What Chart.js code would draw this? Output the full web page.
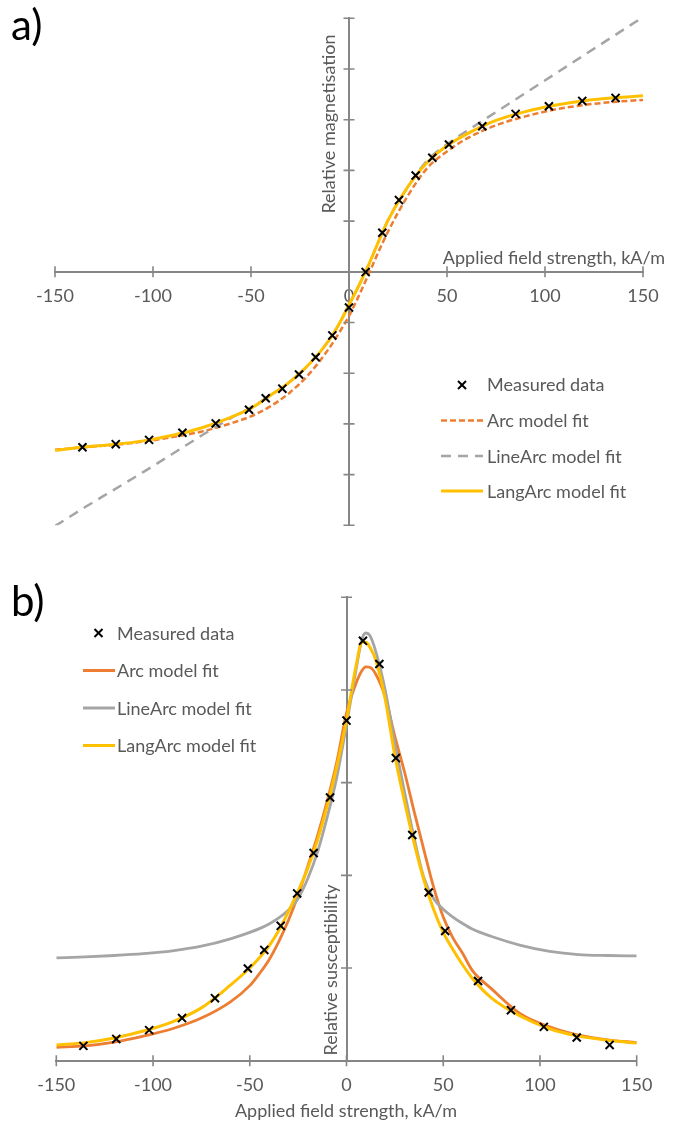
<!DOCTYPE html>
<html><head><meta charset="utf-8">
<script src="https://cdn.jsdelivr.net/npm/chart.js@4.4.1/dist/chart.umd.min.js"></script>
<style>
html,body{margin:0;padding:0;background:#fff;}
#wrap{position:relative;width:680px;height:1124px;overflow:hidden;font-family:Lato,"Open Sans",sans-serif;}
canvas{position:absolute;left:0;top:0;}
.t{position:absolute;color:#595959;font-size:18px;line-height:20px;white-space:nowrap;}
.lbl{position:absolute;color:#000;font-size:42px;line-height:44px;}
.rot{text-align:center;transform:rotate(-90deg);}
svg.sym{position:absolute;overflow:visible;}
</style></head><body>
<div id="wrap">
  <div style="position:absolute;left:0;top:0;width:680px;height:560px"><canvas id="ca" width="680" height="560"></canvas></div>
  <div style="position:absolute;left:0;top:560px;width:680px;height:564px"><canvas id="cb" width="680" height="564"></canvas></div>

  <div class="lbl" style="left:11px;top:2px">a)</div>
  <div class="lbl" style="left:11px;top:578px">b)</div>

  <div class="t" style="left:365px;width:300px;text-align:right;top:247px">Applied field strength, kA/m</div>
  <div class="t rot" style="left:228px;width:200px;top:114px">Relative magnetisation</div>

  <div class="t" style="left:196px;width:300px;text-align:center;top:1100px">Applied field strength, kA/m</div>
  <div class="t rot" style="left:230px;width:200px;top:960px">Relative susceptibility</div>

  <svg class="sym" style="left:0;top:0" width="1" height="1">
    <line x1="458" y1="381" x2="466" y2="389" stroke="#000" stroke-width="2"/>
    <line x1="458" y1="389" x2="466" y2="381" stroke="#000" stroke-width="2"/>
    <line x1="441" y1="420.5" x2="483" y2="420.5" stroke="#ED7D31" stroke-width="2.5" stroke-dasharray="6 3"/>
    <line x1="441" y1="456" x2="483" y2="456" stroke="#A5A5A5" stroke-width="2.5" stroke-dasharray="10 7"/>
    <line x1="441" y1="491" x2="483" y2="491" stroke="#FFC000" stroke-width="3"/>
    <line x1="94.5" y1="629" x2="102.5" y2="637" stroke="#000" stroke-width="2"/>
    <line x1="94.5" y1="637" x2="102.5" y2="629" stroke="#000" stroke-width="2"/>
    <line x1="83" y1="670.5" x2="115" y2="670.5" stroke="#ED7D31" stroke-width="3"/>
    <line x1="83" y1="708" x2="115" y2="708" stroke="#A5A5A5" stroke-width="3"/>
    <line x1="83" y1="745.5" x2="115" y2="745.5" stroke="#FFC000" stroke-width="3"/>
  </svg>
  <div class="t" style="left:487px;top:374px">Measured data</div>
  <div class="t" style="left:487px;top:410px">Arc model fit</div>
  <div class="t" style="left:487px;top:446px">LineArc model fit</div>
  <div class="t" style="left:487px;top:481px">LangArc model fit</div>

  <div class="t" style="left:117px;top:623px">Measured data</div>
  <div class="t" style="left:117px;top:660px">Arc model fit</div>
  <div class="t" style="left:117px;top:698px">LineArc model fit</div>
  <div class="t" style="left:117px;top:735px">LangArc model fit</div>
</div>
<script>
// ---------- data ----------
const xTicks = [-150, -100, -50, 0, 50, 100, 150];
const yTicksA = [-1, -0.8, -0.6, -0.4, -0.2, 0, 0.2, 0.4, 0.6, 0.8, 1];
const yTicksB = [0, 0.2, 0.4, 0.6, 0.8, 1];

const xMeasured = [-136, -119, -102, -85, -68, -51, -42.5, -34, -25.5, -17, -8.5, 0, 8.5, 17, 25.5, 34, 42.5, 51, 68, 85, 102, 119, 136];
const magMeasured = [-0.692, -0.680, -0.663, -0.635, -0.598, -0.544, -0.499, -0.461, -0.405, -0.337, -0.251, -0.141, -0.001, 0.154, 0.283, 0.380, 0.450, 0.502, 0.574, 0.623, 0.653, 0.674, 0.686];
const suscMeasured = [0.032, 0.047, 0.066, 0.092, 0.135, 0.199, 0.239, 0.291, 0.361, 0.448, 0.568, 0.734, 0.906, 0.856, 0.653, 0.487, 0.363, 0.280, 0.172, 0.109, 0.073, 0.050, 0.034];

const xFitA = [-150, -135, -120, -105, -90, -75, -60, -50, -40, -30, -20, -10, -5, 0, 5, 10, 15, 20, 30, 40, 50, 60, 75, 90, 105, 120, 135, 150];
const arcMag = [-0.702, -0.692, -0.683, -0.670, -0.652, -0.630, -0.597, -0.570, -0.530, -0.475, -0.400, -0.300, -0.240, -0.175, -0.095, -0.010, 0.078, 0.160, 0.300, 0.410, 0.475, 0.525, 0.578, 0.613, 0.640, 0.658, 0.670, 0.678];
const lineArcMag = [-1.003, -0.930, -0.860, -0.790, -0.718, -0.645, -0.576, -0.535, -0.487, -0.433, -0.362, -0.268, -0.205, -0.130, -0.055, 0.027, 0.118, 0.205, 0.335, 0.440, 0.503, 0.555, 0.630, 0.705, 0.780, 0.855, 0.930, 1.005];
const langArcMag = [-0.704, -0.691, -0.681, -0.667, -0.645, -0.615, -0.573, -0.538, -0.487, -0.433, -0.362, -0.268, -0.205, -0.130, -0.055, 0.027, 0.118, 0.205, 0.335, 0.432, 0.497, 0.543, 0.597, 0.632, 0.657, 0.675, 0.686, 0.694];

const xFitB = [-150, -135, -120, -105, -90, -75, -60, -50, -45, -40, -35, -30, -25, -20, -15, -10, -5, 0, 5, 8, 10, 12, 15, 20, 25, 30, 35, 40, 45, 50, 55, 60, 65, 75, 90, 105, 120, 135, 150];
const arcSusc = [0.029, 0.032, 0.040, 0.053, 0.069, 0.092, 0.127, 0.162, 0.188, 0.218, 0.257, 0.303, 0.357, 0.420, 0.485, 0.560, 0.645, 0.750, 0.815, 0.842, 0.850, 0.849, 0.835, 0.785, 0.700, 0.623, 0.537, 0.455, 0.375, 0.310, 0.265, 0.232, 0.195, 0.155, 0.101, 0.073, 0.055, 0.045, 0.039];
const lineArcSusc = [0.222, 0.224, 0.227, 0.231, 0.237, 0.247, 0.263, 0.277, 0.285, 0.295, 0.308, 0.325, 0.350, 0.393, 0.450, 0.525, 0.612, 0.725, 0.845, 0.910, 0.923, 0.918, 0.885, 0.800, 0.685, 0.580, 0.480, 0.395, 0.350, 0.327, 0.310, 0.296, 0.284, 0.268, 0.249, 0.236, 0.229, 0.227, 0.226];
const langArcSusc = [0.034, 0.039, 0.049, 0.064, 0.084, 0.114, 0.163, 0.200, 0.222, 0.248, 0.281, 0.322, 0.366, 0.415, 0.476, 0.550, 0.635, 0.735, 0.854, 0.903, 0.903, 0.893, 0.866, 0.780, 0.658, 0.559, 0.469, 0.390, 0.327, 0.277, 0.240, 0.207, 0.178, 0.135, 0.096, 0.069, 0.053, 0.044, 0.038];

// ---------- helpers ----------
const AXIS = '#868686', TXT = '#595959';
const pts = (xs, ys) => xs.map((x, i) => ({x, y: ys[i]}));
const curve = (label, xs, ys, color, width, dash, order) => ({
  label, data: pts(xs, ys), showLine: true, borderColor: color, backgroundColor: color,
  borderWidth: width, borderDash: dash, pointRadius: 0, pointHoverRadius: 0,
  cubicInterpolationMode: 'monotone', order
});
const measured = (ys) => ({
  label: 'Measured data', data: pts(xMeasured, ys), showLine: false,
  pointStyle: 'crossRot', pointRadius: 5.7, borderColor: '#000', backgroundColor: '#000',
  pointBorderWidth: 2, borderWidth: 2, order: 0
});

const crossTicks = {
  id: 'crossTicks',
  afterDraw(chart) {
    const {ctx, scales: {x, y}} = chart;
    const ax = x.getPixelForValue(0), ay = y.getPixelForValue(0);
    ctx.save();
    ctx.strokeStyle = AXIS; ctx.lineWidth = 1.6;
    ctx.beginPath();
    x.ticks.forEach(t => { const px = x.getPixelForValue(t.value); ctx.moveTo(px, ay - 5.5); ctx.lineTo(px, ay + 5.5); });
    y.ticks.forEach(t => { const py = y.getPixelForValue(t.value); ctx.moveTo(ax - 5.5, py); ctx.lineTo(ax + 5.5, py); });
    ctx.stroke();
    ctx.restore();
  }
};

function makeScales(yMin, yMax, yTicks, labelPad) {
  return {
    x: {
      type: 'linear', min: -150, max: 150, position: {y: 0},
      afterBuildTicks: s => { s.ticks = xTicks.map(v => ({value: v})); },
      afterFit: s => { s.height = 0; s.paddingLeft = 0; s.paddingRight = 0; },
      ticks: {color: TXT, font: {family: 'Lato', size: 18}, padding: labelPad, maxRotation: 0, autoSkip: false},
      grid: {display: true, drawOnChartArea: false, drawTicks: false},
      border: {display: true, color: AXIS, width: 2}
    },
    y: {
      type: 'linear', min: yMin, max: yMax, position: {x: 0},
      afterBuildTicks: s => { s.ticks = yTicks.map(v => ({value: v})); },
      afterFit: s => { s.width = 0; },
      ticks: {display: false},
      grid: {display: true, drawOnChartArea: false, drawTicks: false},
      border: {display: true, color: AXIS, width: 2}
    }
  };
}

const common = {
  responsive: false, animation: false, events: [],
  plugins: {legend: {display: false}, tooltip: {enabled: false}}
};

new Chart(document.getElementById('ca'), {
  type: 'scatter',
  data: {datasets: [
    measured(magMeasured),
    curve('LangArc model fit', xFitA, langArcMag, '#FFC000', 3, [], 1),
    curve('LineArc model fit', xFitA, lineArcMag, '#A5A5A5', 2.5, [10, 7], 2),
    curve('Arc model fit', xFitA, arcMag, '#ED7D31', 2.5, [6, 3], 3)
  ]},
  options: Object.assign({}, common, {
    layout: {padding: {left: 55, right: 37, top: 18.3, bottom: 34.7}},
    scales: makeScales(-1, 1, yTicksA, 14)
  }),
  plugins: [crossTicks]
});

new Chart(document.getElementById('cb'), {
  type: 'scatter',
  data: {datasets: [
    measured(suscMeasured),
    curve('LangArc model fit', xFitB, langArcSusc, '#FFC000', 3, [], 1),
    curve('LineArc model fit', xFitB, lineArcSusc, '#A5A5A5', 2.8, [], 2),
    curve('Arc model fit', xFitB, arcSusc, '#ED7D31', 2.8, [], 3)
  ]},
  options: Object.assign({}, common, {
    layout: {padding: {left: 56.3, right: 43.3, top: 37.3, bottom: 63.3}},
    scales: makeScales(0, 1, yTicksB, 13.5)
  }),
  plugins: [crossTicks]
});
</script>
</body></html>
